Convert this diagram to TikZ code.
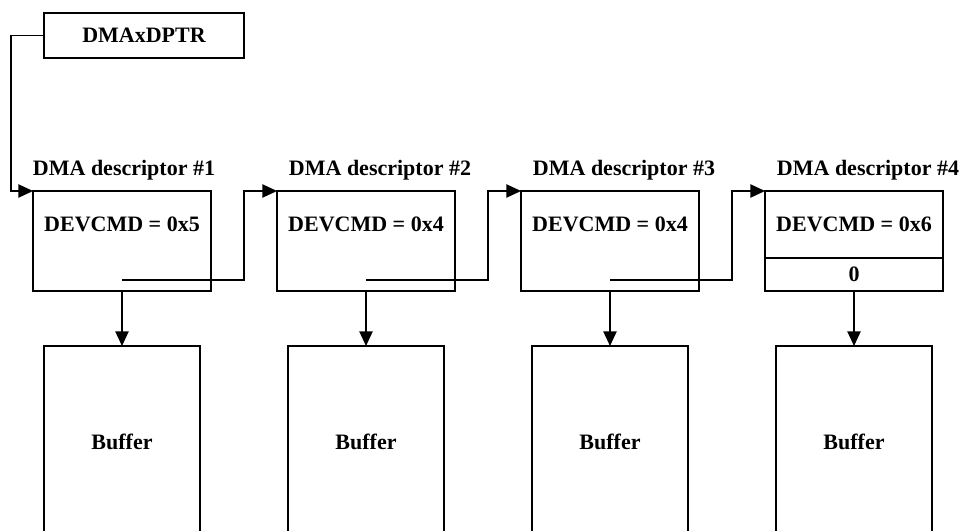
\documentclass[tikz,border=0pt]{standalone}
\usepackage{fontspec}
\setmainfont{Liberation Serif}
\usetikzlibrary{positioning,arrows.meta}

\tikzset{
	every node/.style={font=\bfseries\fontsize{16.5}{20}\selectfont, outer sep=0pt},
	desc/.style={draw, minimum width=133.5pt, minimum height=75pt, inner sep=0pt},
	cmd/.style={minimum width=133.5pt, minimum height=50.25pt, inner sep=0pt},
	nil/.style={minimum width=133.5pt, minimum height=24.75pt, inner sep=0pt},
	buf/.style={draw, minimum width=117pt, minimum height=144pt, inner sep=0pt},
	title/.style={inner sep=0pt},
	link/.style={-{Triangle[length=11pt,width=10pt]}},
}

\begin{document}
\begin{tikzpicture}[x=0.75pt, y=-0.75pt, line width=1pt]
	\useasboundingbox (0,0) rectangle (963,531);
	\clip (0,0) rectangle (963,531);
	% pointer register
	\node[draw, minimum width=150pt, minimum height=33.75pt, inner sep=0pt] (ptr) at (144,35.5) {DMAxDPTR};

	% descriptors
	\node[desc] (d1) at (122,241) {};
	\node[desc, right=49.5pt of d1] (d2) {};
	\node[desc, right=49.5pt of d2] (d3) {};
	\node[desc, right=49.5pt of d3] (d4) {};

	\node[cmd, below=0pt of d1.north] (c1) {DEVCMD = 0x5};
	\node[cmd, below=0pt of d2.north] (c2) {DEVCMD = 0x4};
	\node[cmd, below=0pt of d3.north] (c3) {DEVCMD = 0x4};
	\node[cmd, below=0pt of d4.north] (c4) {DEVCMD = 0x6};
	\node[nil, below=0pt of c4] (n4) {0};
	\draw (c4.south west) -- (c4.south east);

	\node[title, above=8.4pt of d1.north, xshift=1.5pt] (t1) {DMA descriptor \#1};
	\node[title, above=8.4pt of d2.north, xshift=10.5pt] (t2) {DMA descriptor \#2};
	\node[title, above=8.4pt of d3.north, xshift=10.5pt] (t3) {DMA descriptor \#3};
	\node[title, above=8.4pt of d4.north, xshift=10.5pt] (t4) {DMA descriptor \#4};

	% buffers
	\node[buf, below=41.25pt of d1] (b1) {Buffer};
	\node[buf, below=41.25pt of d2] (b2) {Buffer};
	\node[buf, below=41.25pt of d3] (b3) {Buffer};
	\node[buf, below=41.25pt of d4] (b4) {Buffer};

	% next-descriptor links
	\coordinate[left=16.5pt of d1.north west] (k0);
	\coordinate[above=8.25pt of d1.south] (p1);
	\coordinate[above=8.25pt of d2.south] (p2);
	\coordinate[above=8.25pt of d3.south] (p3);
	\coordinate[right=24.75pt of d1.north east] (k1);
	\coordinate[right=24.75pt of d2.north east] (k2);
	\coordinate[right=24.75pt of d3.north east] (k3);

	\draw[link] (ptr.west) -| (k0) -- (d1.north west);
	\draw[link] (p1) -| (k1) -- (d2.north west);
	\draw[link] (p2) -| (k2) -- (d3.north west);
	\draw[link] (p3) -| (k3) -- (d4.north west);

	\draw[link] (d1.south) -- (b1.north);
	\draw[link] (d2.south) -- (b2.north);
	\draw[link] (d3.south) -- (b3.north);
	\draw[link] (n4.south) -- (b4.north);
\end{tikzpicture}
\end{document}
